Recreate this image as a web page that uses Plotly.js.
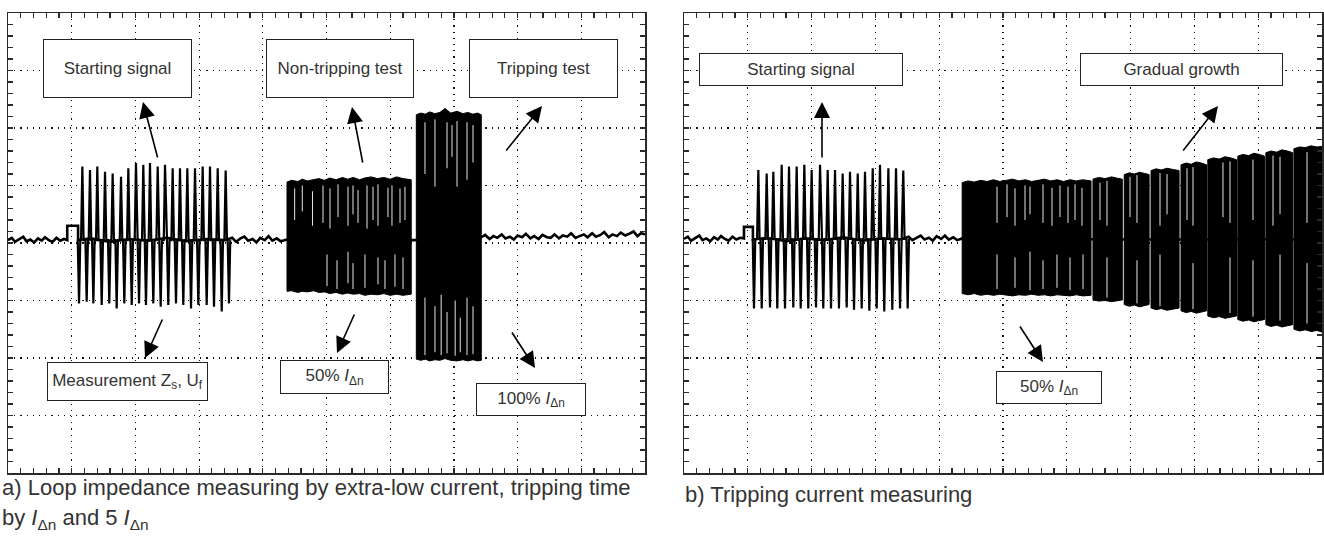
<!DOCTYPE html>
<html><head><meta charset="utf-8">
<script src="https://cdn.plot.ly/plotly-3.0.1.min.js"></script>
<style>html,body{margin:0;padding:0;background:#fff}#chart{width:1324px;height:541px}</style>
</head><body><div id="chart"></div>
<script>
// ===== DATA (oscilloscope screen divisions: x 0..10, y -4..4) =====
// --- panel a) ---
const aBaseX = [0.00,0.06,0.11,0.18,0.24,0.29,0.35,0.41,0.47,0.53,0.58,0.64,0.70,0.76,0.82,0.88,0.93,0.93,1.10,1.10,1.30,1.60,1.90,2.20,2.50,2.80,3.10,3.40,3.52,3.58,3.65,3.71,3.77,3.84,3.90,3.96,4.03,4.09,4.15,4.22,4.28,4.38,5.40,6.38,7.43,7.49,7.56,7.62,7.68,7.75,7.81,7.88,7.94,8.00,8.07,8.13,8.20,8.26,8.33,8.39,8.46,8.52,8.58,8.65,8.71,8.78,8.84,8.91,8.97,9.04,9.10,9.17,9.23,9.30,9.36,9.43,9.49,9.56,9.62,9.69,9.75,9.82,9.88,9.94,10.0];
const aBaseY = [0.05,0.09,0.02,0.07,0.11,0.03,0.06,0.01,0.08,0.04,0.10,0.05,0.02,0.09,0.04,0.07,0.05,0.30,0.30,0.05,0.08,0.02,0.07,0.04,0.09,0.03,0.07,0.05,0.09,0.02,0.08,0.11,0.04,0.07,0.01,0.09,0.05,0.12,0.04,0.08,0.03,0.06,0.05,0.05,0.10,0.14,0.07,0.12,0.09,0.15,0.08,0.11,0.06,0.13,0.10,0.16,0.08,0.12,0.07,0.14,0.10,0.09,0.15,0.08,0.13,0.11,0.17,0.09,0.12,0.15,0.10,0.17,0.11,0.14,0.19,0.10,0.15,0.12,0.18,0.13,0.16,0.20,0.12,0.17,0.15];
const aUpT = [1.167,1.287,1.402,1.523,1.643,1.774,1.889,2.009,2.124,2.229,2.350,2.465,2.585,2.700,2.815,2.936,3.056,3.171,3.292,3.417];
const aUpV = [1.33,1.27,1.33,1.24,1.21,1.15,1.30,1.39,1.36,1.39,1.33,1.36,1.30,1.30,1.30,1.30,1.33,1.33,1.30,1.26];
const aDnT = [1.115,1.235,1.340,1.471,1.590,1.706,1.826,1.942,2.057,2.166,2.281,2.397,2.516,2.637,2.752,2.873,2.988,3.119,3.234,3.355,3.469];
const aDnV = [-1.05,-1.02,-1.05,-1.08,-1.05,-1.14,-1.05,-1.08,-1.05,-1.08,-1.05,-1.11,-1.08,-1.05,-1.08,-1.14,-1.08,-1.08,-1.11,-1.19,-1.05];
// dense blocks: envelope points (x, top, bottom), blocks separated by null
const aDenseX   = [4.38,4.45,4.55,4.62,4.70,4.80,4.88,4.97,5.05,5.15,5.25,5.33,5.42,5.52,5.60,5.70,5.80,5.90,6.00,6.10,6.20,6.33,null,6.41,6.48,6.55,6.62,6.70,6.78,6.86,6.95,7.05,7.14,7.22,7.30,7.37,7.43];
const aDenseTop = [1.06,1.09,1.07,1.11,1.08,1.10,1.12,1.09,1.13,1.10,1.14,1.11,1.14,1.10,1.13,1.15,1.12,1.14,1.11,1.15,1.12,1.10,null,2.23,2.26,2.24,2.28,2.25,2.27,2.34,2.26,2.29,2.25,2.27,2.24,2.26,2.23];
const aDenseBot = [-0.84,-0.83,-0.86,-0.84,-0.85,-0.83,-0.86,-0.85,-0.88,-0.86,-0.89,-0.87,-0.89,-0.88,-0.91,-0.89,-0.90,-0.88,-0.91,-0.89,-0.91,-0.89,null,-2.02,-2.04,-2.02,-2.05,-2.03,-2.04,-2.01,-2.04,-2.05,-2.03,-2.05,-2.03,-2.05,-2.04];
const aStreakX  = [4.50,4.62,4.78,4.945,5.055,5.181,5.338,5.416,5.495,5.636,5.730,5.808,5.965,6.028,6.154,6.232, 5.008,5.165,5.338,5.416,5.604,5.808,5.918,6.075,6.201, 6.546,6.703,6.892,6.970,7.049,7.206,7.300, 6.546,6.703,6.80,6.892,7.02,7.10,7.206,7.300];
const aStreakY0 = [0.40,0.55,0.30,0.35,0.25,0.45,0.30,0.50,0.35,0.25,0.40,0.30,0.45,0.30,0.35,0.40, -0.20,-0.30,-0.15,-0.35,-0.20,-0.25,-0.30,-0.20,-0.25, 1.20,0.98,1.30,1.50,0.98,1.10,1.40, -0.95,-1.10,-0.90,-1.20,-1.00,-1.30,-0.95,-1.10];
const aStreakY1 = [0.95,1.00,0.90,1.00,0.95,1.02,0.98,1.00,0.92,1.00,0.98,1.02,0.96,1.00,0.95,0.98, -0.75,-0.80,-0.70,-0.80,-0.78,-0.72,-0.80,-0.76,-0.80, 2.10,2.15,2.10,2.05,2.12,2.10,2.05, -1.95,-1.90,-1.95,-1.92,-1.96,-1.90,-1.95,-1.93];

// --- panel b) ---
const bBaseX = [0.00,0.06,0.11,0.18,0.24,0.29,0.35,0.41,0.47,0.53,0.58,0.64,0.70,0.76,0.82,0.88,0.94,0.94,1.08,1.08,1.30,1.60,1.90,2.20,2.50,2.80,3.10,3.40,3.52,3.58,3.65,3.71,3.77,3.84,3.90,3.96,4.03,4.09,4.15,4.22,4.28,4.36,7.00,10.0];
const bBaseY = [0.07,0.11,0.04,0.09,0.13,0.05,0.08,0.03,0.10,0.06,0.12,0.07,0.04,0.11,0.06,0.09,0.08,0.28,0.28,0.06,0.09,0.03,0.08,0.05,0.10,0.04,0.08,0.06,0.11,0.05,0.10,0.13,0.06,0.09,0.04,0.12,0.07,0.13,0.06,0.10,0.05,0.08,0.06,0.06];
const bUpT = [1.165,1.296,1.400,1.531,1.646,1.766,1.886,2.001,2.132,2.252,2.367,2.487,2.602,2.723,2.837,2.958,3.072,3.203,3.323,3.437];
const bUpV = [1.27,1.21,1.24,1.36,1.33,1.33,1.36,1.27,1.36,1.27,1.27,1.21,1.24,1.21,1.24,1.30,1.36,1.30,1.30,1.26];
const bDnT = [1.097,1.218,1.348,1.462,1.583,1.713,1.829,1.948,2.069,2.183,2.304,2.429,2.550,2.665,2.785,2.905,3.020,3.139,3.265,3.386,3.506];
const bDnV = [-1.14,-1.14,-1.12,-1.14,-1.14,-1.12,-1.14,-1.14,-1.12,-1.14,-1.14,-1.14,-1.12,-1.16,-1.14,-1.18,-1.14,-1.19,-1.16,-1.14,-1.14];
const bDenseX   = [4.36,4.45,4.55,4.65,4.75,4.85,4.95,5.05,5.15,5.25,5.35,5.45,5.55,5.65,5.75,5.85,5.95,6.05,6.15,6.25,6.38,null,6.41,6.50,6.60,6.70,6.78,6.87,null,6.90,6.98,7.06,7.14,7.22,7.29,null,7.32,7.40,7.48,7.57,7.66,7.76,null,7.79,7.87,7.95,8.03,8.11,8.19,null,8.21,8.30,8.39,8.48,8.57,8.66,null,8.68,8.76,8.85,8.93,9.02,9.10,null,9.12,9.20,9.29,9.37,9.46,9.54,null,9.56,9.65,9.74,9.83,9.92,10.0];
const bDenseTop = [1.05,1.08,1.06,1.09,1.07,1.10,1.07,1.09,1.11,1.08,1.10,1.07,1.09,1.11,1.08,1.10,1.07,1.10,1.08,1.10,1.08,null,1.11,1.14,1.12,1.15,1.13,1.11,null,1.19,1.22,1.20,1.23,1.21,1.19,null,1.26,1.29,1.27,1.30,1.28,1.26,null,1.36,1.39,1.37,1.41,1.39,1.36,null,1.45,1.48,1.46,1.50,1.48,1.45,null,1.51,1.54,1.52,1.56,1.54,1.51,null,1.57,1.60,1.58,1.62,1.60,1.57,null,1.64,1.67,1.66,1.69,1.67,1.68];
const bDenseBot = [-0.88,-0.90,-0.88,-0.91,-0.89,-0.91,-0.89,-0.90,-0.92,-0.90,-0.91,-0.89,-0.91,-0.90,-0.92,-0.90,-0.91,-0.92,-0.90,-0.92,-0.91,null,-0.99,-1.01,-1.00,-1.02,-1.00,-0.99,null,-1.07,-1.10,-1.08,-1.11,-1.09,-1.07,null,-1.13,-1.16,-1.14,-1.17,-1.15,-1.13,null,-1.18,-1.21,-1.19,-1.22,-1.20,-1.18,null,-1.27,-1.30,-1.28,-1.31,-1.29,-1.27,null,-1.33,-1.36,-1.34,-1.37,-1.35,-1.33,null,-1.42,-1.45,-1.43,-1.46,-1.44,-1.42,null,-1.50,-1.53,-1.51,-1.54,-1.52,-1.55];
const bStreakX  = [4.906,5.063,5.188,5.345,5.423,5.627,5.768,5.893,6.019,6.129,6.238, 4.906,5.188,5.423,5.627,5.846,6.050,6.254, 6.520,6.630,6.991,7.100,7.461,7.571,7.884,7.978,8.448,8.558,8.918,9.232,9.342,9.765, 6.630,7.100,7.461,7.978,8.558,8.918,9.342,9.765];
const bStreakY0 = [0.35,0.45,0.30,0.40,0.50,0.35,0.30,0.45,0.35,0.40,0.30, -0.20,-0.25,-0.15,-0.30,-0.20,-0.25,-0.20, 0.40,0.30,0.45,0.35,0.30,0.50,0.40,0.30,0.45,0.35,0.40,0.30,0.50,0.35, -0.25,-0.30,-0.20,-0.35,-0.25,-0.30,-0.20,-0.35];
const bStreakY1 = [0.98,1.02,0.95,1.00,0.98,1.02,0.96,1.00,0.98,1.02,0.96, -0.80,-0.78,-0.82,-0.80,-0.78,-0.82,-0.80, 1.05,1.08,1.15,1.18,1.22,1.20,1.30,1.32,1.40,1.42,1.45,1.52,1.50,1.58, -0.95,-1.05,-1.10,-1.15,-1.22,-1.28,-1.35,-1.40];

const BASE_A = 0.05, BASE_B = 0.07;

// ===== BUILD TRACES =====
function pulseTrace(upT, upV, dnT, dnV, base, xa, ya) {
  const ev = [];
  upT.forEach((t, i) => ev.push([t, upV[i]]));
  dnT.forEach((t, i) => ev.push([t, dnV[i]]));
  ev.sort((a, b) => a[0] - b[0]);
  const x = [], y = [];
  ev.forEach(([t, v]) => { x.push(t - 0.02, t, t + 0.02); y.push(base, v, base); });
  return {x, y, xaxis: xa, yaxis: ya, type: 'scatter', mode: 'lines',
          line: {color: '#000', width: 2.2}, hoverinfo: 'skip', showlegend: false};
}
function denseTrace(dx, top, bot, xa, ya) {
  const x = [], y = [];
  let seg = [];
  const flush = () => {
    if (!seg.length) return;
    seg.forEach(i => { x.push(dx[i]); y.push(top[i]); });
    for (let k = seg.length - 1; k >= 0; k--) { x.push(dx[seg[k]]); y.push(bot[seg[k]]); }
    x.push(dx[seg[0]]); y.push(top[seg[0]]);
    x.push(null); y.push(null);
    seg = [];
  };
  dx.forEach((v, i) => { if (v === null) flush(); else seg.push(i); });
  flush();
  return {x, y, xaxis: xa, yaxis: ya, type: 'scatter', mode: 'lines', fill: 'toself',
          fillcolor: '#000', line: {color: '#000', width: 1}, hoverinfo: 'skip', showlegend: false};
}
function streakTrace(sx, y0, y1, xa, ya) {
  const x = [], y = [];
  sx.forEach((s, i) => { x.push(s, s, null); y.push(y0[i], y1[i], null); });
  return {x, y, xaxis: xa, yaxis: ya, type: 'scatter', mode: 'lines',
          line: {color: '#fff', width: 0.9}, hoverinfo: 'skip', showlegend: false};
}
function baseTrace(bx, by, xa, ya) {
  return {x: bx, y: by, xaxis: xa, yaxis: ya, type: 'scatter', mode: 'lines',
          line: {color: '#000', width: 2.6}, hoverinfo: 'skip', showlegend: false};
}

const data = [
  baseTrace(aBaseX, aBaseY, 'x', 'y'),
  pulseTrace(aUpT, aUpV, aDnT, aDnV, BASE_A, 'x', 'y'),
  denseTrace(aDenseX, aDenseTop, aDenseBot, 'x', 'y'),
  streakTrace(aStreakX, aStreakY0, aStreakY1, 'x', 'y'),
  baseTrace(bBaseX, bBaseY, 'x2', 'y2'),
  pulseTrace(bUpT, bUpV, bDnT, bDnV, BASE_B, 'x2', 'y2'),
  denseTrace(bDenseX, bDenseTop, bDenseBot, 'x2', 'y2'),
  streakTrace(bStreakX, bStreakY0, bStreakY1, 'x2', 'y2'),
  // empty traces so the grid-only overlay axes exist
  {x: [], y: [], xaxis: 'x3', yaxis: 'y3', type: 'scatter', mode: 'lines', showlegend: false},
  {x: [], y: [], xaxis: 'x4', yaxis: 'y4', type: 'scatter', mode: 'lines', showlegend: false}
];

const FRAME = '#2a2a2a';
// tick axes: a tick every 1/5 division on all four edges
function tickX(domain, anchor) {
  return {domain, anchor, range: [0, 10], dtick: 0.2, tick0: 0, ticks: 'inside', ticklen: 5,
    tickcolor: FRAME, tickwidth: 1.2, showticklabels: false, showgrid: false, zeroline: false,
    showline: true, linecolor: FRAME, linewidth: 1.5, mirror: 'ticks', fixedrange: true};
}
function tickY(anchor) {
  return {domain: [0, 1], anchor, range: [-4, 4], dtick: 0.2, tick0: 0, ticks: 'inside', ticklen: 5,
    tickcolor: FRAME, tickwidth: 1.2, showticklabels: false, showgrid: false, zeroline: false,
    showline: true, linecolor: FRAME, linewidth: 1.5, mirror: 'ticks', fixedrange: true};
}
// grid axes: dotted line every division
function gridX(domain, anchor, over) {
  return {domain, anchor, overlaying: over, range: [0, 10], dtick: 1, tick0: 0, ticks: '',
    showticklabels: false, showgrid: true, gridcolor: '#111', gridwidth: 1.2, griddash: '1.2px,5px',
    zeroline: false, showline: false, fixedrange: true};
}
function gridY(anchor, over) {
  return {domain: [0, 1], anchor, overlaying: over, range: [-4, 4], dtick: 1, tick0: 0, ticks: '',
    showticklabels: false, showgrid: true, gridcolor: '#111', gridwidth: 1.2, griddash: '1.2px,5px',
    zeroline: false, showline: false, fixedrange: true};
}

const BOXFONT = {family: 'Liberation Sans, Arial, sans-serif', size: 17, color: '#333'};
function box(text, xref, yref, x, y, w, h) {
  return {text, xref, yref, x, y, xanchor: 'center', yanchor: 'middle', showarrow: false,
    width: w - 2, height: h - 2, bgcolor: '#fff', bordercolor: '#222', borderwidth: 1, borderpad: 0,
    font: BOXFONT, align: 'center', valign: 'middle'};
}
function arrow(xref, yref, x, y, ax, ay) {
  return {text: '', xref, yref, x, y, ax, ay, showarrow: true, arrowhead: 2, arrowsize: 2,
    arrowwidth: 1.6, arrowcolor: '#000', standoff: 0};
}
const CAPFONT = {family: 'Liberation Sans, Arial, sans-serif', size: 22, color: '#333'};
function cap(text, x, y) {
  return {text, xref: 'paper', yref: 'paper', x, y, xanchor: 'left', yanchor: 'middle',
    showarrow: false, font: CAPFONT, align: 'left'};
}
const I = '<i>I</i><sub>Δn</sub>';

const annotations = [
  box('Starting signal', 'x', 'y', 1.719, 3.035, 149, 59),
  box('Non-tripping test', 'x', 'y', 5.212, 3.035, 148, 59),
  box('Tripping test', 'x', 'y', 8.407, 3.035, 149, 59),
  box('Measurement Z<sub>s</sub>, U<sub>f</sub>', 'x', 'y', 1.876, -2.409, 161, 39),
  box('50% ' + I, 'x', 'y', 5.126, -2.330, 109, 34),
  box('100% ' + I, 'x', 'y', 8.210, -2.722, 110, 33),
  box('Starting signal', 'x2', 'y2', 1.834, 3.017, 204, 33),
  box('Gradual growth', 'x2', 'y2', 7.798, 3.017, 203, 33),
  box('50% ' + I, 'x2', 'y2', 5.721, -2.513, 106, 33),
  arrow('x', 'y', 2.119, 2.452, 15, 57),
  arrow('x', 'y', 5.400, 2.365, 11, 57),
  arrow('x', 'y', 8.383, 2.383, -37, 46),
  arrow('x', 'y', 2.151, -2.000, 18, -40),
  arrow('x', 'y', 5.165, -1.913, 18, -40),
  arrow('x', 'y', 8.273, -2.174, -24, -37),
  arrow('x2', 'y2', 2.163, 2.452, 0, 57),
  arrow('x2', 'y2', 8.370, 2.383, -36, 46),
  arrow('x2', 'y2', 5.627, -2.070, -24, -37),
  cap('a) Loop impedance measuring by extra-low current, tripping time', 0.0, (473 - 488) / 460),
  cap('by ' + I + ' and 5 ' + I, 0.0, (473 - 519) / 460),
  cap('b) Tripping current measuring', 683 / 1324, (473 - 494) / 460)
];

const DA = [8 / 1324, 645 / 1324], DB = [684 / 1324, 1322 / 1324];
const layout = {
  width: 1324, height: 541,
  margin: {l: 0, r: 0, t: 13, b: 68, pad: 0},
  paper_bgcolor: '#fff', plot_bgcolor: '#fff',
  showlegend: false,
  xaxis: tickX(DA, 'y'),
  yaxis: tickY('x'),
  xaxis2: tickX(DB, 'y2'),
  yaxis2: tickY('x2'),
  xaxis3: gridX(DA, 'y3', 'x'),
  yaxis3: gridY('x3', 'y'),
  xaxis4: gridX(DB, 'y4', 'x2'),
  yaxis4: gridY('x4', 'y2'),
  annotations
};

Plotly.newPlot('chart', data, layout, {staticPlot: true, displayModeBar: false});
</script>
</body></html>
